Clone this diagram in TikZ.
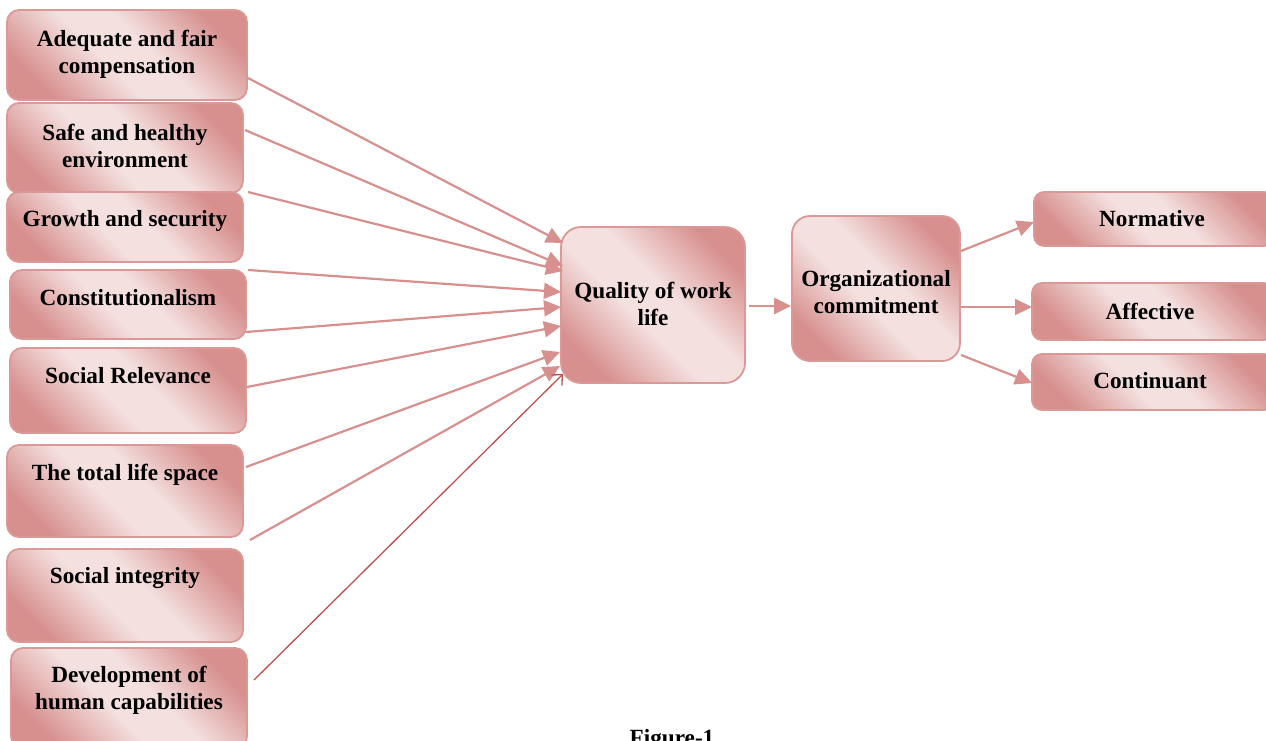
\documentclass[tikz,border=0pt]{standalone}
\usepackage{fontspec}
\setmainfont{Liberation Serif}
\usetikzlibrary{arrows.meta}
\definecolor{pk}{HTML}{D7908E}
\definecolor{pkl}{HTML}{F3E0DF}
\definecolor{pkb}{HTML}{DA9896}
\definecolor{dred}{HTML}{C0504D}
\pgfdeclareverticalshading{pinkband}{100bp}{color(0bp)=(pk); color(25bp)=(pk); color(44bp)=(pkl); color(56bp)=(pkl); color(75bp)=(pk); color(100bp)=(pk)}
\tikzset{
  box/.style={draw=pkb, line width=1.8pt, rounded corners=12pt, shading=pinkband, shading angle=-45, inner sep=0pt},
  lbl/.style={font=\bfseries\fontsize{23.2}{27}\selectfont, align=center, inner sep=0pt, text=black},
  arr/.style={draw=pk, line width=2.2pt, -{Triangle[length=17pt,width=16pt]}},
  arrd/.style={draw=dred, line width=1.3pt, -{Straight Barb[length=8pt,width=15pt]}}
}
\begin{document}
\begin{tikzpicture}[x=1pt,y=-1pt]
\useasboundingbox (0,0) rectangle (1266,740);
\clip (0,0) rectangle (1266,740);
% left boxes
\node[box, minimum width=240pt, minimum height=90pt] (adq) at (127,55) {};
\node[lbl] at (127,54) {Adequate and fair\\compensation};
\node[box, minimum width=236pt, minimum height=90pt] (safe) at (125,148) {};
\node[lbl] at (125,146) {Safe and healthy\\environment};
\node[box, minimum width=236pt, minimum height=70pt] (grow) at (125,227) {};
\node[lbl] at (125,221) {Growth and security};
\node[box, minimum width=236pt, minimum height=69pt] (const) at (128,304.5) {};
\node[lbl] at (128,298) {Constitutionalism};
\node[box, minimum width=236pt, minimum height=85pt] (soc) at (128,390.5) {};
\node[lbl] at (128,376) {Social Relevance};
\node[box, minimum width=236pt, minimum height=92pt] (life) at (125,491) {};
\node[lbl] at (125,475) {The total life space};
\node[box, minimum width=236pt, minimum height=93pt] (integ) at (125,595.5) {};
\node[lbl] at (125,578) {Social integrity};
\node[box, minimum width=236pt, minimum height=100pt] (dev) at (129,698) {};
\node[lbl] at (129,690) {Development of\\human capabilities};
% centre boxes
\node[box, rounded corners=20pt, minimum width=184pt, minimum height=156pt] (qwl) at (653,305) {};
\node[lbl] at (653,304) {Quality of work\\life};
\node[box, rounded corners=18pt, minimum width=168pt, minimum height=145pt] (oc) at (876,288.5) {};
\node[lbl] at (876,292) {Organizational\\commitment};
% right boxes
\node[box, rounded corners=10pt, minimum width=240pt, minimum height=54pt] (norm) at (1154,219) {};
\node[lbl] at (1152,219) {Normative};
\node[box, rounded corners=10pt, minimum width=242pt, minimum height=57pt] (aff) at (1153,311.5) {};
\node[lbl] at (1150,311) {Affective};
\node[box, rounded corners=10pt, minimum width=242pt, minimum height=56pt] (cont) at (1153,382) {};
\node[lbl] at (1150,381) {Continuant};
% caption
\node[lbl, anchor=base] (cap) at (672,745) {Figure-1};
% connector ends
\coordinate (s1) at (248,78);  \coordinate (t1) at (563,243);
\coordinate (s2) at (245,130); \coordinate (t2) at (563,266);
\coordinate (s3) at (248,192); \coordinate (t3) at (563,271);
\coordinate (s4) at (248,270); \coordinate (t4) at (561,292);
\coordinate (s5) at (246,332); \coordinate (t5) at (561,307);
\coordinate (s6) at (247,387); \coordinate (t6) at (561,326);
\coordinate (s7) at (246,467); \coordinate (t7) at (560,352);
\coordinate (s8) at (250,540); \coordinate (t8) at (560,366);
\coordinate (s9) at (254,680); \coordinate (t9) at (563,374);
\draw[arr] (s1) -- (t1);
\draw[arr] (s2) -- (t2);
\draw[arr] (s3) -- (t3);
\draw[arr] (s4) -- (t4);
\draw[arr] (s5) -- (t5);
\draw[arr] (s6) -- (t6);
\draw[arr] (s7) -- (t7);
\draw[arr] (s8) -- (t8);
\draw[arrd] (s9) -- (t9);
\draw[arr] (qwl.east) ++(3,1) coordinate (q1) -- (oc.west |- q1);
\coordinate (o1) at (961,251); \coordinate (n1) at (1034,222);
\coordinate (o2) at (961,307); \coordinate (n2) at (1032,307);
\coordinate (o3) at (961,355); \coordinate (n3) at (1032,383);
\draw[arr] (o1) -- (n1);
\draw[arr] (o2) -- (n2);
\draw[arr] (o3) -- (n3);
\end{tikzpicture}
\end{document}
